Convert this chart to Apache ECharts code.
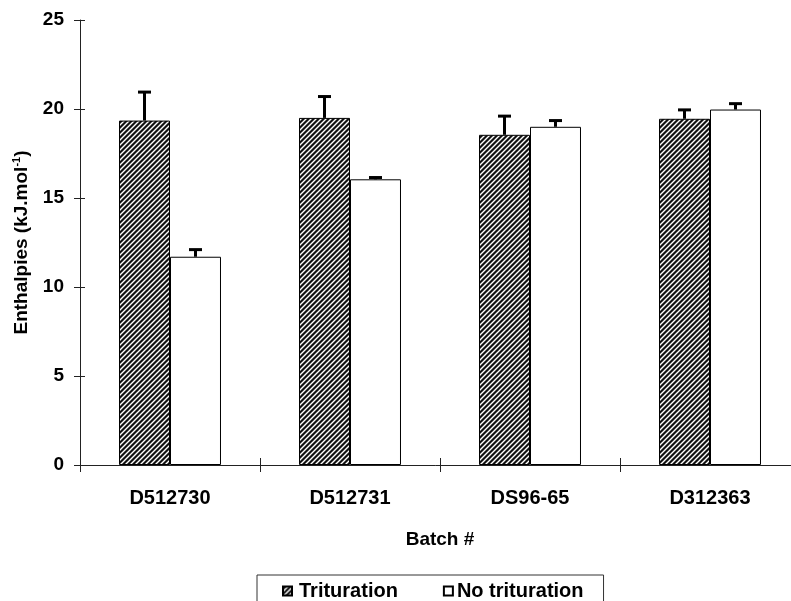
<!DOCTYPE html>
<html>
<head>
<meta charset="utf-8">
<script src="https://cdn.jsdelivr.net/npm/echarts@6/dist/echarts.min.js"></script>
<style>html,body{margin:0;padding:0;background:#fff}#c{width:791px;height:601px}</style>
</head>
<body>
<div id="c"></div>
<script>
var categories = ['D512730', 'D512731', 'DS96-65', 'D312363'];
var triturationValues = [19.35, 19.5, 18.55, 19.45];
var triturationErrors = [1.6, 1.2, 1.05, 0.5];
var noTriturationValues = [11.7, 16.05, 19.0, 19.97];
var noTriturationErrors = [0.4, 0.1, 0.35, 0.33];
var yTicks = [0, 5, 10, 15, 20, 25];

function makeHatch() {
  var n = 5;
  var c = document.createElement('canvas');
  c.width = n; c.height = n;
  var g = c.getContext('2d');
  g.fillStyle = '#111';
  g.fillRect(0, 0, n, n);
  g.strokeStyle = '#fff';
  g.lineWidth = 1.4;
  g.beginPath();
  g.moveTo(-1, n + 1); g.lineTo(n + 1, -1);
  g.moveTo(-1, 1); g.lineTo(1, -1);
  g.moveTo(n - 1, n + 1); g.lineTo(n + 1, n - 1);
  g.stroke();
  return c;
}
var hatch = { image: makeHatch(), repeat: 'repeat' };

var BAR_RATIO = 0.2833;
function errorSeries(values, errors, side) {
  var data = values.map(function (v, i) { return [i, v, errors[i]]; });
  return {
    type: 'custom',
    z: 10,
    silent: true,
    data: data,
    renderItem: function (params, api) {
      var i = api.value(0), v = api.value(1), e = api.value(2);
      var bw = api.size([1, 0])[0] * BAR_RATIO;
      var base = api.coord([i, v]);
      var top = api.coord([i, v + e]);
      var x = base[0] + side * bw / 2;
      var cap = 6.5;
      return {
        type: 'group',
        children: [
          { type: 'line', shape: { x1: x, y1: base[1], x2: x, y2: top[1] }, style: { stroke: '#000', lineWidth: 3 } },
          { type: 'line', shape: { x1: x - cap, y1: top[1], x2: x + cap, y2: top[1] }, style: { stroke: '#000', lineWidth: 3 } }
        ]
      };
    }
  };
}

var font = 'Liberation Sans, Arial, sans-serif';
var chart = echarts.init(document.getElementById('c'));
chart.setOption({
  animation: false,
  backgroundColor: '#fff',
  textStyle: { fontFamily: font },
  grid: { left: 80, top: 20, right: -9, bottom: 136, containLabel: false, outerBoundsMode: 'none' },
  legend: {
    data: [
      { name: 'Trituration', textStyle: { padding: [0, 0, 0, 2] } },
      { name: 'No trituration', textStyle: { padding: [0, 0, 0, -1] } }
    ],
    left: 257, top: 575,
    padding: [6, 20, 20, 25],
    itemGap: 45,
    itemWidth: 9, itemHeight: 9,
    borderColor: '#333', borderWidth: 1,
    icon: 'rect',
    textStyle: { fontFamily: font, fontWeight: 'bold', fontSize: 20, color: '#000' }
  },
  xAxis: [{
    type: 'category',
    data: categories,
    name: 'Batch #',
    nameLocation: 'middle',
    nameGap: 65,
    nameTextStyle: { fontFamily: font, fontWeight: 'bold', fontSize: 19, color: '#000' },
    axisLine: { lineStyle: { color: '#222', width: 1 } },
    axisTick: { show: true, length: 7, lineStyle: { color: '#222' } },
    axisLabel: { fontFamily: font, fontWeight: 'bold', fontSize: 20, color: '#000', margin: 23 },
    splitLine: { show: false }
  }, {
    type: 'category',
    data: categories,
    position: 'bottom',
    axisLine: { show: false },
    axisTick: { show: true, inside: true, length: 7, lineStyle: { color: '#222' } },
    axisLabel: { show: false },
    splitLine: { show: false }
  }],
  yAxis: [{
    type: 'value',
    min: yTicks[0], max: yTicks[yTicks.length - 1], interval: 5,
    name: 'Enthalpies (kJ.mol{sup|-1})',
    nameLocation: 'middle',
    nameGap: 48,
    nameRotate: 90,
    nameTextStyle: {
      fontFamily: font, fontWeight: 'bold', fontSize: 19, color: '#000',
      rich: { sup: { fontFamily: font, fontWeight: 'bold', fontSize: 11, color: '#000', padding: [0, 0, 10, 0] } }
    },
    axisLine: { show: true, lineStyle: { color: '#222', width: 1 } },
    axisTick: { show: true, length: 6, lineStyle: { color: '#222' } },
    axisLabel: { fontFamily: font, fontWeight: 'bold', fontSize: 19, color: '#000', margin: 16 },
    splitLine: { show: false }
  }, {
    type: 'value',
    min: yTicks[0], max: yTicks[yTicks.length - 1], interval: 5,
    position: 'left',
    axisLine: { show: false },
    axisTick: { show: true, inside: true, length: 5, lineStyle: { color: '#222' } },
    axisLabel: { show: false },
    splitLine: { show: false }
  }],
  series: [{
    name: 'Trituration',
    type: 'bar',
    data: triturationValues,
    barWidth: '28.33%',
    barGap: '0%',
    itemStyle: { color: hatch, borderColor: '#000', borderWidth: 1 }
  }, {
    name: 'No trituration',
    type: 'bar',
    data: noTriturationValues,
    barWidth: '28.33%',
    barGap: '0%',
    itemStyle: { color: '#fff', borderColor: '#000', borderWidth: 1 }
  },
  errorSeries(triturationValues, triturationErrors, -1),
  errorSeries(noTriturationValues, noTriturationErrors, 1)
  ]
});
</script>
</body>
</html>
